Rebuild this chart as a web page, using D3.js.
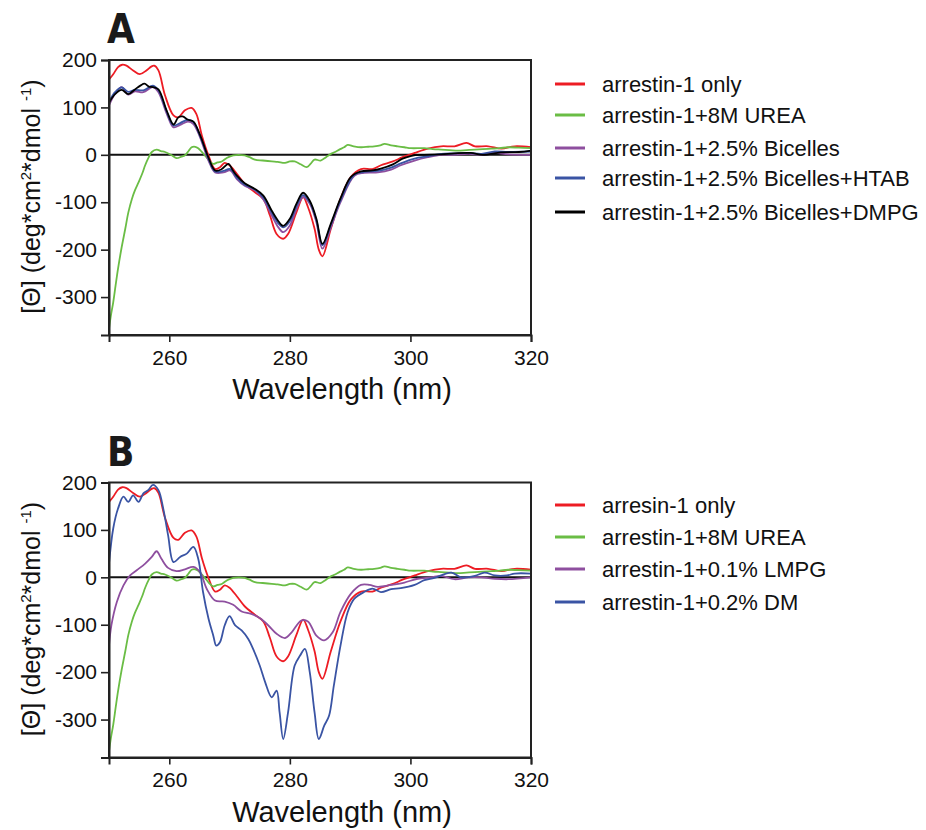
<!DOCTYPE html>
<html lang="en">
<head>
<meta charset="utf-8">
<title>CD spectra arrestin-1</title>
<script src="https://d3js.org/d3.v7.js"></script>
<style>
  body { margin: 0; background: #fff; }
  text { font-family: "Liberation Sans", Arial, sans-serif; fill: #111; }
</style>
</head>
<body>
<script>
// ---- data: [wavelength nm, ellipticity] ----
var arrestinOnly = [[250,159],[250.7,170],[251.5,185],[252.2,190],[252.9,188],[254,178],[255.1,170],[256.2,178],[257,186],[257.5,188],[258.2,178],[259.3,125],[260.7,83],[261.5,79],[262.6,94],[263.7,99],[264.5,86],[265.4,41],[266.5,-1],[267.6,-30],[268.4,-26],[269.2,-17],[270,-22],[271.2,-40],[272.5,-61],[274.2,-79],[275.6,-93],[276.7,-128],[277.8,-167],[278.9,-177],[279.7,-167],[281.1,-121],[282.2,-89],[283,-110],[284.1,-156],[284.8,-200],[285.4,-214],[286.8,-156],[288.4,-93],[290.1,-47],[291.8,-30],[293.7,-30],[295.1,-22],[297.1,-14],[298.7,-5],[300.7,4],[302.9,13],[305.1,18],[307.3,18],[309.3,25],[310.7,18],[312.9,18],[315.1,13],[317.3,18],[320,16]];

var urea8M = [[250,-367],[250.3,-340],[250.7,-311],[251.1,-275],[251.5,-240],[252.1,-195],[252.7,-156],[253.2,-122],[253.8,-93],[254.3,-75],[254.9,-58],[255.5,-40],[256,-22],[256.6,-5],[257.1,6],[257.9,11],[258.6,8],[259.3,6],[260.4,-1],[261.2,-7],[262,-4],[262.6,-1],[263.2,8],[263.7,16],[264.3,17],[264.8,14],[265.4,6],[265.9,-1],[266.6,-12],[267.3,-19],[268,-16],[268.7,-14],[269.6,-6],[270.6,-1],[271.5,0],[272.5,-1],[273.3,-5],[274.2,-10],[275.5,-12],[277,-14],[278,-15],[279.2,-17],[280,-14],[280.8,-14],[281.8,-20],[282.8,-26],[283.5,-18],[284.1,-10],[285.1,-12],[286,-5],[286.8,2],[287.5,6],[288.2,11],[289,16],[289.6,21],[290.6,18],[291.8,16],[293,17],[294,18],[295,20],[295.7,23],[296.8,20],[297.9,18],[299,16],[300.1,14],[302.3,14],[303.7,12],[305.1,11],[306.5,10],[307.9,9],[309.3,10],[310.7,11],[312,12],[313.4,13],[314.8,14],[316.2,16],[318,15],[320,14]];

var bicelles = [[250,104],[251,129],[252.1,143],[253.2,127],[254.3,134],[255.7,132],[257.3,143],[258.2,132],[259.6,86],[260.7,58],[261.8,63],[263.1,70],[264,65],[265.1,37],[266.5,-12],[267.6,-37],[269,-37],[270.1,-33],[271.2,-51],[272.5,-65],[274.2,-75],[275.6,-94],[277,-128],[278.1,-153],[278.9,-163],[280,-149],[281.1,-114],[282.2,-89],[283.3,-103],[284.4,-142],[285.4,-198],[286.8,-153],[288.4,-100],[290.7,-44],[292.3,-38],[294.6,-37],[296.8,-31],[298.4,-22],[300.7,-12],[302.9,-5],[305.1,0],[307.3,0],[309.6,2],[311.8,0],[314,4],[316.2,1],[320,0]];

var bicellesHTAB = [[250,112],[251,132],[252.1,142],[253.2,133],[254.3,137],[255.7,136],[257.3,146],[258.2,136],[259.6,90],[260.7,62],[261.8,67],[263.1,74],[264,69],[265.1,40],[266.5,-8],[267.6,-35],[269,-34],[270.1,-30],[271.2,-48],[272.5,-63],[274.2,-73],[275.6,-90],[277,-122],[278.1,-145],[278.9,-153],[280,-140],[281.1,-108],[282.2,-85],[283.3,-100],[284.4,-138],[285.4,-191],[286.8,-148],[288.4,-96],[290.7,-42],[292.3,-36],[294.6,-34],[296.8,-27],[298.4,-18],[300.7,-8],[302.9,-3],[305.1,2],[307.3,3],[309.6,4],[311.8,2],[314,7],[316.2,6],[320,7]];

var bicellesDMPG = [[250,110],[251,128],[252.1,137],[253.2,128],[254.3,138],[255.2,146],[255.9,150],[256.6,144],[257.3,143],[258.2,138],[259.6,92],[260.7,64],[261.5,79],[262.2,81],[263.1,74],[264,70],[265.1,42],[266.5,-6],[267.6,-33],[268.6,-31],[269.8,-19],[270.5,-32],[271.2,-44],[272.5,-60],[274.2,-72],[275.6,-86],[277,-118],[278.1,-140],[278.9,-150],[280,-135],[281.1,-103],[282.2,-80],[283.3,-97],[284.4,-135],[285.4,-188],[286.8,-145],[288.4,-92],[290.1,-47],[291.8,-35],[293.7,-33],[295.1,-29],[297.1,-20],[298.7,-8],[300.2,-2],[302,0],[305.1,1],[307.3,3],[310,4],[312,0],[315,5],[318,6],[320,9]];

var lmpg = [[250,-144],[250.4,-101],[251.3,-52],[252.4,-17],[253.5,4],[254.6,15],[256,29],[257.1,43],[257.9,55],[258.7,39],[259.8,20],[261.2,13],[262.6,17],[264,22],[265.1,11],[266.2,-24],[267.6,-49],[269.2,-51],[270.6,-58],[272,-72],[273.6,-77],[275,-86],[276.4,-101],[277.8,-119],[279.2,-128],[280.3,-116],[281.9,-91],[283,-93],[284.4,-123],[285.7,-133],[287.1,-116],[288.4,-73],[290.1,-35],[291.8,-16],[293.2,-16],[294.6,-20],[296.8,-16],[299,-11],[301.2,-3],[303.4,0],[305.1,3],[307.3,-4],[309.6,0],[311.8,0],[314,-3],[316.2,-4],[320,0]];

var dm = [[250,29],[250.7,103],[251.5,145],[252.4,170],[253.2,159],[254,173],[254.9,159],[255.7,177],[256.5,184],[257.3,195],[258.2,184],[259,145],[259.8,89],[260.7,32],[261.8,43],[262.9,50],[264,64],[264.8,39],[265.6,-31],[266.5,-87],[267.3,-123],[267.8,-144],[268.4,-137],[269.2,-101],[270,-82],[270.9,-101],[272,-112],[273.1,-130],[273.9,-151],[275,-186],[275.9,-221],[277,-253],[277.8,-239],[278.3,-285],[278.9,-341],[279.7,-285],[280.8,-186],[281.7,-165],[282.5,-151],[283.3,-200],[284.1,-285],[284.8,-341],[285.7,-313],[286.5,-292],[287.3,-228],[288.4,-144],[289.6,-73],[290.7,-45],[292.3,-31],[293.7,-24],[295.1,-31],[296.8,-25],[298.4,-23],[300.7,-16],[302.3,-6],[304,-1],[306.8,10],[308.4,0],[310.7,3],[312.3,10],[314,4],[316,4],[317.3,8],[320,8]];

var xTicks = [260, 280, 300, 320];
var yTicks = [-300, -200, -100, 0, 100, 200];

var labelsA = ["arrestin-1 only", "arrestin-1+8M UREA", "arrestin-1+2.5% Bicelles", "arrestin-1+2.5% Bicelles+HTAB", "arrestin-1+2.5% Bicelles+DMPG"];
var labelsB = ["arresin-1 only", "arrestin-1+8M UREA", "arrestin-1+0.1% LMPG", "arrestin-1+0.2% DM"];

var red = "#ed1c24", green = "#6abd45", purple = "#8e4f9f", blue = "#3a54a4", black = "#000";

var panels = [
  { letter: "A", top: 60, series: [arrestinOnly, urea8M, bicelles, bicellesHTAB, bicellesDMPG],
    colors: [red, green, purple, blue, black], labels: labelsA, legendY: [84, 115, 148, 178, 212] },
  { letter: "B", top: 482.5, series: [arrestinOnly, urea8M, lmpg, dm],
    colors: [red, green, purple, blue], labels: labelsB, legendY: [505, 537, 569, 602] }
];

var w = 926, h = 830;
var plotLeft = 109, plotRight = 531, plotH = 275;

var svg = d3.select("body").append("svg")
  .attr("width", w)
  .attr("height", h);

svg.append("rect").attr("width", w).attr("height", h).attr("fill", "#fff");

var x = d3.scaleLinear().domain([250, 320]).range([plotLeft, plotRight]);

panels.forEach(function(p) {
  var y = d3.scaleLinear().domain([-380, 200]).range([p.top + plotH, p.top]);
  var g = svg.append("g");

  // panel letter
  g.append("text")
    .attr("x", 107).attr("y", p.top - 17)
    .style("font-family", "'Liberation Sans Narrow', 'DejaVu Sans Condensed', sans-serif")
    .style("font-weight", "bold")
    .style("font-size", "40px")
    .style("fill", "#1a1a1a")
    .text(p.letter);

  // clip
  var clipId = "clip" + p.letter;
  g.append("clipPath").attr("id", clipId)
    .append("rect")
    .attr("x", plotLeft).attr("y", p.top)
    .attr("width", plotRight - plotLeft).attr("height", plotH);

  // zero line
  g.append("line")
    .attr("x1", plotLeft).attr("x2", plotRight)
    .attr("y1", y(0)).attr("y2", y(0))
    .attr("stroke", "#111").attr("stroke-width", 2);

  var line = d3.line()
    .x(function(d) { return x(d[0]); })
    .y(function(d) { return y(d[1]); })
    .curve(d3.curveCatmullRom.alpha(0.5));

  g.append("g").attr("clip-path", "url(#" + clipId + ")")
    .selectAll("path")
    .data(p.series)
    .enter().append("path")
    .attr("d", line)
    .attr("fill", "none")
    .attr("stroke", function(d, i) { return p.colors[i]; })
    .attr("stroke-width", 1.8)
    .attr("stroke-linejoin", "round");

  // frame
  g.append("rect")
    .attr("x", plotLeft).attr("y", p.top)
    .attr("width", plotRight - plotLeft).attr("height", plotH)
    .attr("fill", "none").attr("stroke", "#222").attr("stroke-width", 2);

  // plain hyphen for negatives, as in the figure
  var fmt = function(d) { return String(d); };
  var yAxis = d3.axisLeft(y).tickValues(yTicks).tickFormat(fmt).tickSize(8).tickPadding(4);
  var xAxis = d3.axisBottom(x).tickValues(xTicks).tickFormat(fmt).tickSize(7).tickPadding(8);

  var ya = g.append("g").attr("transform", "translate(" + plotLeft + ",0)").call(yAxis);
  var xa = g.append("g").attr("transform", "translate(0," + (p.top + plotH) + ")").call(xAxis);
  [ya, xa].forEach(function(a) {
    a.select(".domain").attr("stroke", "#222").attr("stroke-width", 2);
    a.selectAll(".tick line").attr("stroke", "#222").attr("stroke-width", 1.6);
    a.selectAll(".tick text").style("font-family", "'Liberation Sans', Arial, sans-serif")
      .style("font-size", "21px").attr("fill", "#111");
  });

  // axis titles
  g.append("text")
    .attr("x", 342).attr("y", p.top + plotH + 64)
    .attr("text-anchor", "middle")
    .style("font-size", "29px")
    .text("Wavelength (nm)");

  var yl = g.append("text")
    .attr("transform", "translate(40," + (p.top + plotH / 2 - 1) + ") rotate(-90)")
    .attr("text-anchor", "middle")
    .style("font-size", "25px");
  yl.append("tspan").text("[\u0398] (deg*cm");
  yl.append("tspan").attr("dy", -9).style("font-size", "15px").text("2");
  yl.append("tspan").attr("dy", 9).text("*dmol ");
  yl.append("tspan").attr("dy", -9).style("font-size", "15px").text("-1");
  yl.append("tspan").attr("dy", 9).text(")");

  // legend
  var lg = g.selectAll(".leg").data(p.labels).enter().append("g")
    .attr("transform", function(d, i) { return "translate(0," + p.legendY[i] + ")"; });
  lg.append("line")
    .attr("x1", 555).attr("x2", 585)
    .attr("stroke", function(d, i) { return p.colors[i]; })
    .attr("stroke-width", 3);
  lg.append("text")
    .attr("x", 602).attr("y", 8)
    .style("font-size", "22px")
    .text(function(d) { return d; });
});
</script>
</body>
</html>
